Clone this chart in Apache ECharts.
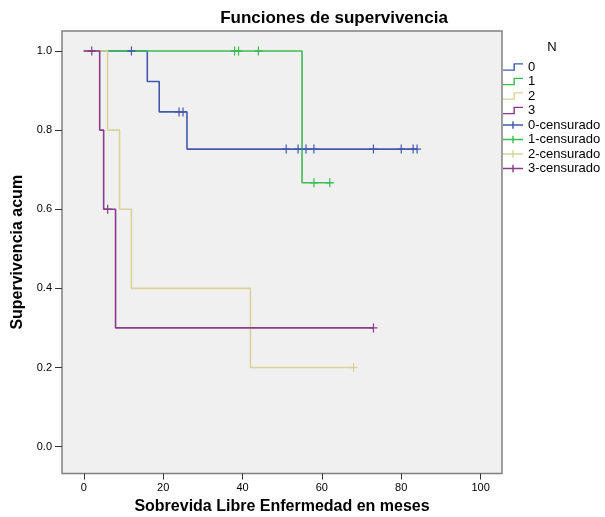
<!DOCTYPE html>
<html>
<head>
<meta charset="utf-8">
<script src="https://cdn.jsdelivr.net/npm/echarts@6/dist/echarts.min.js"></script>
<style>html,body{margin:0;padding:0;background:#fff}#c{width:605px;height:517px}</style>
</head>
<body>
<div id="c"></div>
<script>
// Group names
const groupNames = ['0', '1', '2', '3'];
const censNames = ['0-censurado', '1-censurado', '2-censurado', '3-censurado'];
const groupColors = ['#4259ae', '#3dbb52', '#d8d39c', '#8a3a8b'];

// Kaplan-Meier step points (time, cumulative survival)
const g0Times = [0, 16, 19, 26, 84];
const g0Surv  = [1.0, 0.923, 0.846, 0.752, 0.752];
const g1Times = [0, 55, 62];
const g1Surv  = [1.0, 0.667, 0.667];
const g2Times = [0, 6, 9, 12, 42, 68];
const g2Surv  = [1.0, 0.8, 0.6, 0.4, 0.2, 0.2];
const g3Times = [0, 4, 5, 8, 73];
const g3Surv  = [1.0, 0.8, 0.6, 0.3, 0.3];

// Censored observations
const c0Times = [12, 24, 25, 51, 54, 56, 58, 73, 80, 83, 84];
const c0Surv  = [1.0, 0.846, 0.846, 0.752, 0.752, 0.752, 0.752, 0.752, 0.752, 0.752, 0.752];
const c1Times = [38, 39, 44, 58, 62];
const c1Surv  = [1.0, 1.0, 1.0, 0.667, 0.667];
const c2Times = [68];
const c2Surv  = [0.2];
const c3Times = [2, 6, 73];
const c3Surv  = [1.0, 0.6, 0.3];

// Axis ticks
const xTicks = [0, 20, 40, 60, 80, 100];
const yTicks = [0.0, 0.2, 0.4, 0.6, 0.8, 1.0];

const stepT = [g0Times, g1Times, g2Times, g3Times];
const stepS = [g0Surv, g1Surv, g2Surv, g3Surv];
const censT = [c0Times, c1Times, c2Times, c3Times];
const censS = [c0Surv, c1Surv, c2Surv, c3Surv];

const zip = (a, b) => a.map((v, i) => [v, b[i]]);

const stepIcon = 'path://M0,6.5H11V0H21V1.5H12.5V8H0Z';
const crossIcon = 'path://M0,3.25H9.75V0H11.25V3.25H21V4.75H11.25V8H9.75V4.75H0Z';
const plusSym = 'path://M0,3.4H8V4.6H0Z M3.4,0H4.6V8H3.4Z';

const font = 'Liberation Sans, Arial, sans-serif';

const series = [];
for (let i = 0; i < 4; i++) {
  series.push({
    name: groupNames[i],
    type: 'line',
    step: 'end',
    data: zip(stepT[i], stepS[i]),
    showSymbol: false,
    symbol: 'none',
    lineStyle: { color: groupColors[i], width: 1.6 },
    itemStyle: { color: groupColors[i] },
    z: 2 + i,
    animation: false
  });
}
for (let i = 0; i < 4; i++) {
  series.push({
    name: censNames[i],
    type: 'scatter',
    data: zip(censT[i], censS[i]),
    symbol: plusSym,
    symbolSize: [8, 9],
    itemStyle: { color: groupColors[i], opacity: 1 },
    z: 10 + i,
    animation: false
  });
}

const legendData = groupNames.map((n) => ({ name: n, icon: stepIcon }))
  .concat(censNames.map((n) => ({ name: n, icon: crossIcon })));

const chart = echarts.init(document.getElementById('c'), null, { renderer: 'canvas' });
chart.setOption({
  backgroundColor: '#ffffff',
  animation: false,
  title: [{
    text: 'Funciones de supervivencia',
    left: 329,
    textAlign: 'center',
    top: 5,
    textStyle: { fontFamily: font, fontSize: 17, fontWeight: 'bold', color: '#000' }
  }, {
    text: 'N',
    left: 547,
    textAlign: 'center',
    top: 36,
    textStyle: { fontFamily: font, fontSize: 13, fontWeight: 'normal', color: '#000' }
  }],
  grid: {
    left: 62, right: 103, top: 31, bottom: 43.5,
    outerBoundsMode: 'none',
    containLabel: false,
    show: true,
    backgroundColor: '#f0f0f0',
    borderColor: '#808080',
    borderWidth: 1.5
  },
  legend: {
    orient: 'vertical',
    left: 503,
    top: 60.5,
    padding: 0,
    itemWidth: 20,
    itemHeight: 8,
    itemGap: 1.5,
    selectedMode: false,
    textStyle: { fontFamily: font, fontSize: 13, color: '#000', lineHeight: 13 },
    data: legendData
  },
  xAxis: {
    type: 'value',
    min: -5.5,
    max: 105.4,
    name: 'Sobrevida Libre Enfermedad en meses',
    nameLocation: 'middle',
    nameGap: 25,
    nameTextStyle: { fontFamily: font, fontSize: 16, fontWeight: 'bold', color: '#000' },
    axisLine: { show: false, onZero: false },
    axisTick: { show: true, inside: false, length: 6, lineStyle: { color: '#333' }, customValues: xTicks },
    axisLabel: { fontFamily: font, fontSize: 11, color: '#000', margin: 9, customValues: xTicks,
      formatter: (v) => String(v) },
    splitLine: { show: false }
  },
  yAxis: {
    type: 'value',
    min: -0.068,
    max: 1.0505,
    name: 'Supervivencia acum',
    nameLocation: 'middle',
    nameGap: 28,
    nameTextStyle: { fontFamily: font, fontSize: 16, fontWeight: 'bold', color: '#000' },
    axisLine: { show: false, onZero: false },
    axisTick: { show: true, inside: false, length: 7, lineStyle: { color: '#333' }, customValues: yTicks },
    axisLabel: { fontFamily: font, fontSize: 11, color: '#000', margin: 10, customValues: yTicks,
      formatter: (v) => v.toFixed(1) },
    splitLine: { show: false }
  },
  series: series
});
</script>
</body>
</html>
